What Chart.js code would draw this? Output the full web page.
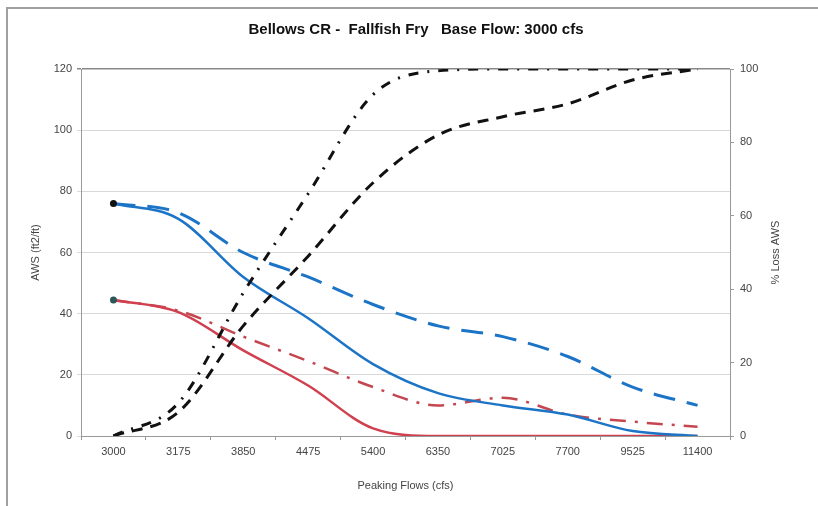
<!DOCTYPE html>
<html>
<head>
<meta charset="utf-8">
<script src="https://cdn.jsdelivr.net/npm/chart.js@4"></script>
<style>
    html, body { margin: 0; padding: 0; background: #fff; }
    #wrap { position: relative; width: 818px; height: 506px; }
    #frame { position: absolute; left: 6px; top: 7px; right: 0; bottom: 0;
             border-left: 2px solid #a0a0a0; border-top: 2px solid #a0a0a0; pointer-events: none; }
    canvas { position: absolute; left: 0; top: 0; }
</style>
</head>
<body>
<div id="wrap">
    <canvas id="chart" width="818" height="506"></canvas>
    <div id="frame"></div>
</div>
<script>
// Peaking flows (cfs) - x categories
const flows = ['3000', '3175', '3850', '4475', '5400', '6350', '7025', '7700', '9525', '11400'];

// AWS (ft2/ft), left axis
const blueSolid  = [76, 71, 52, 38.5, 23.5, 14, 10, 7, 1.6, 0];
const blueDashed = [76, 73, 60, 52, 43, 36, 32.5, 26, 16, 10];
const redSolid   = [44.5, 40.5, 28, 16.5, 2.5, 0, 0, 0, 0, 0];
const redDashDot = [44.5, 41, 32.5, 24.5, 16, 10, 12.5, 7, 4.7, 3];

// % Loss AWS, right axis
const lossDashDot = [0, 9, 39, 66, 93, 99.5, 100, 100, 100, 100];
const lossDashed  = [0, 6.5, 30, 49, 69, 82, 87, 90.5, 97, 100];

const FONT = 'Liberation Sans, Arial, sans-serif';
const firstDot = ctx => ctx.dataIndex === 0 ? 3.5 : 0;

// right axis title reads bottom-to-top like the left one
const rightTitle = {
    id: 'rightTitle',
    afterDraw(chart) {
        const { ctx, chartArea } = chart;
        ctx.save();
        ctx.translate(776, (chartArea.top + chartArea.bottom) / 2);
        ctx.rotate(-Math.PI / 2);
        ctx.font = '11px ' + FONT;
        ctx.fillStyle = '#444';
        ctx.textAlign = 'center';
        ctx.textBaseline = 'middle';
        ctx.fillText('% Loss AWS', 0, 0);
        ctx.restore();
    }
};

new Chart(document.getElementById('chart'), {
    type: 'line',
    data: {
        labels: flows,
        datasets: [
            {
                data: lossDashDot, yAxisID: 'yLoss',
                borderColor: '#111', borderWidth: 3, borderDash: [10, 9, 2, 9],
                pointRadius: 0
            },
            {
                data: lossDashed, yAxisID: 'yLoss',
                borderColor: '#111', borderWidth: 3, borderDash: [11, 8],
                pointRadius: 0
            },
            {
                data: blueSolid, yAxisID: 'yAws',
                borderColor: '#1c74c6', borderWidth: 2.5,
                pointRadius: firstDot, pointBackgroundColor: '#111', pointBorderWidth: 0
            },
            {
                data: blueDashed, yAxisID: 'yAws',
                borderColor: '#1c74c6', borderWidth: 3, borderDash: [22, 12],
                pointRadius: 0
            },
            {
                data: redSolid, yAxisID: 'yAws',
                borderColor: '#d0404f', borderWidth: 2.5,
                pointRadius: firstDot, pointBackgroundColor: '#2a5858', pointBorderWidth: 0
            },
            {
                data: redDashDot, yAxisID: 'yAws',
                borderColor: '#c4474f', borderWidth: 2.5, borderDash: [16, 9, 3, 9],
                pointRadius: 0
            }
        ]
    },
    options: {
        responsive: false,
        animation: false,
        cubicInterpolationMode: 'monotone',
        layout: { padding: { left: 14, right: 0, top: 0, bottom: 0 } },
        plugins: {
            legend: { display: false },
            tooltip: { enabled: false },
            title: {
                display: true,
                text: 'Bellows CR -  Fallfish Fry   Base Flow: 3000 cfs',
                color: '#111',
                font: { family: FONT, size: 15, weight: 'bold' },
                padding: { top: 21, bottom: 30 }
            }
        },
        scales: {
            x: {
                offset: true,
                grid: { offset: true, drawOnChartArea: false, tickLength: 4, color: '#999' },
                border: { color: '#999' },
                ticks: { color: '#444', font: { family: FONT, size: 11 }, padding: 5, maxRotation: 0, autoSkip: false },
                title: {
                    display: true, text: 'Peaking Flows (cfs)', color: '#444',
                    font: { family: FONT, size: 11 }, padding: { top: 0, bottom: 13 }
                },
                afterFit: s => { s.height = 70; }
            },
            yAws: {
                position: 'left', min: 0, max: 120,
                ticks: { stepSize: 20, color: '#444', font: { family: FONT, size: 11 }, padding: 5 },
                grid: {
                    tickLength: 4,
                    color: c => c.tick && c.tick.value === 120 ? '#888' : '#d8d8d8',
                    lineWidth: c => c.tick && c.tick.value === 120 ? 1.5 : 1
                },
                border: { color: '#999' },
                title: {
                    display: true, text: 'AWS (ft2/ft)', color: '#444',
                    font: { family: FONT, size: 11 }, padding: { top: 15, bottom: 0 }
                },
                afterFit: s => { s.width = 67; }
            },
            yLoss: {
                position: 'right', min: 0, max: 100,
                ticks: { stepSize: 20, color: '#444', font: { family: FONT, size: 11 }, padding: 6 },
                grid: { drawOnChartArea: false, tickLength: 4, color: '#999' },
                border: { color: '#999' },
                afterFit: s => { s.width = 88; }
            }
        }
    },
    plugins: [rightTitle]
});
</script>
</body>
</html>
